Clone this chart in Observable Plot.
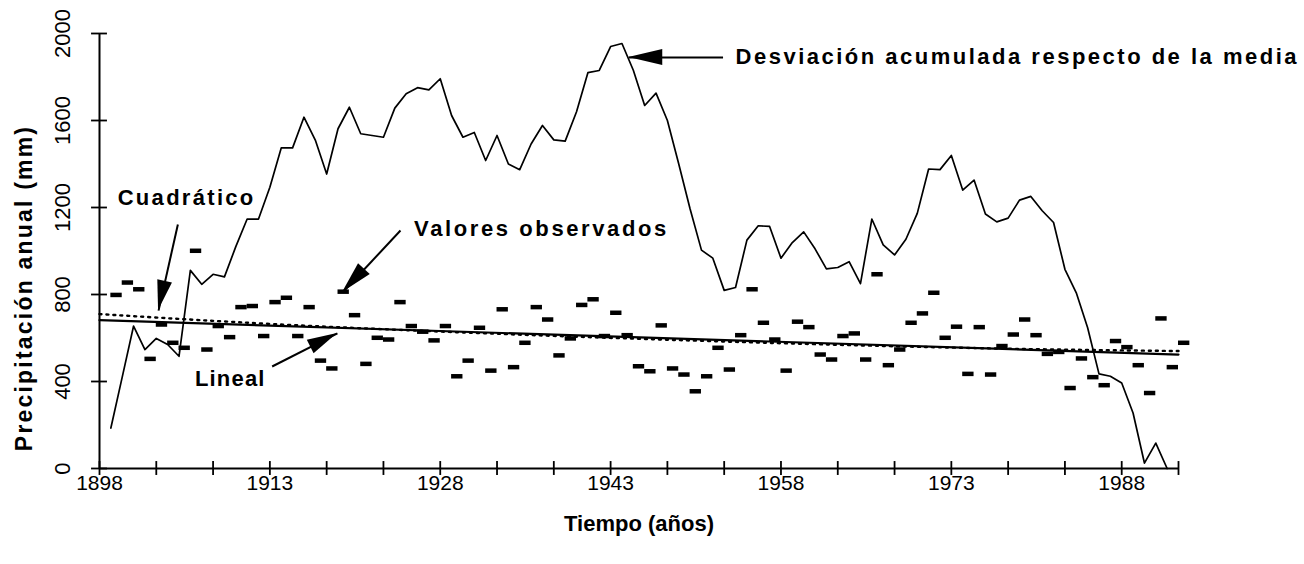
<!DOCTYPE html>
<html><head><meta charset="utf-8">
<script src="https://cdn.jsdelivr.net/npm/d3@7"></script>
<script src="https://cdn.jsdelivr.net/npm/@observablehq/plot@0.6"></script>
<style>
html,body{margin:0;padding:0;background:#fff;}
#chart svg{display:block;}
</style></head><body><div id="chart"></div>
<script>
// ---------- data ----------
const obsYears = d3.range(1899, 1994);           // years of observed dashes
const observed = [798,855,824,504,662,578,555,1001,547,655,604,742,747,609,765,785,609,742,496,460,
  813,705,481,601,593,765,655,629,589,655,424,496,647,450,732,466,578,742,685,520,
  598,752,778,609,716,613,470,447,658,460,432,355,424,555,455,613,824,670,593,450,
  675,650,524,501,609,621,501,893,475,547,670,713,808,601,652,435,650,432,563,616,
  685,613,527,536,370,506,420,383,586,558,475,347,690,466,578];
const cumYears = d3.range(1899, 1993);
const cumulative = [186,420,655,547,598,570,516,911,847,893,881,1020,1147,1147,1293,1474,1474,1615,1510,1354,
  1562,1661,1539,1531,1523,1657,1723,1751,1741,1792,1623,1523,1545,1416,1531,1400,1374,1492,1577,1511,
  1505,1640,1820,1830,1940,1954,1831,1669,1726,1600,1400,1193,1004,967,819,832,1050,1116,1113,967,
  1039,1088,1010,918,924,951,850,1147,1028,982,1054,1173,1377,1374,1439,1280,1326,1170,1134,1151,
  1234,1251,1185,1131,916,808,647,435,424,393,255,25,117,0];
const linearYears = [1898, 1993];
const linearValues = [682, 524];
const quadYears = [1898, 1910, 1925, 1945, 1965, 1980, 1993];
const quadValues = [710, 673, 636, 597, 566, 549, 540];
const yTickValues = [0, 400, 800, 1200, 1600, 2000];
const xTickValues = d3.range(1898, 1994, 5);
const xLabelValues = [1898, 1913, 1928, 1943, 1958, 1973, 1988];
const labelTexts = ["Desviación acumulada respecto de la media", "Cuadrático", "Valores observados", "Lineal"];
const labelYears = [1954.0, 1899.6, 1925.7, 1906.4];
const labelValues = [1890, 1246, 1103, 414];
const arrowFrom = [[1952.9, 1890], [1904.9, 1122], [1924.5, 1094], [1913.2, 469]];
const arrowTo   = [[1944.6, 1890], [1903.2, 726], [1919.4, 809], [1918.95, 621]];
const xTitle = "Tiempo (años)";
const yTitle = "Precipitación anual (mm)";

// ---------- tables ----------
const obsData = obsYears.map((year, i) => ({year, v: observed[i]}));
const cumData = cumYears.map((year, i) => ({year, v: cumulative[i]}));
const linData = linearYears.map((year, i) => ({year, v: linearValues[i]}));
const quadData = quadYears.map((year, i) => ({year, v: quadValues[i]}));
const labels = labelTexts.map((t, i) => ({t, x: labelYears[i], y: labelValues[i]}));
const arrows = arrowFrom.map((f, i) => ({x1: f[0], y1: f[1], x2: arrowTo[i][0], y2: arrowTo[i][1]}));

const sans = "'Liberation Sans', Arial, Helvetica, sans-serif";
const narrow = "'Liberation Sans Narrow', 'Arial Narrow', 'Liberation Sans', Arial, sans-serif";
const x0 = 1898, tickHalfX = 0.7, tickHalfY = 32;
const spacing = {"Desviación acumulada respecto de la media": 2.5, "Cuadrático": 2.3, "Valores observados": 2.6, "Lineal": 1.2, "Precipitación anual (mm)": 2.2};

const plot = Plot.plot({
  width: 1304, height: 564,
  marginLeft: 99, marginRight: 126, marginTop: 33, marginBottom: 96,
  x: {domain: [1898, 1993], axis: null},
  y: {domain: [0, 2000], axis: null},
  style: {fontFamily: sans, background: "white", color: "black", overflow: "visible"},
  marks: [
    Plot.ruleX(xTickValues, {x: d => d, y1: -tickHalfY, y2: tickHalfY, strokeWidth: 1.8}),
    Plot.ruleY(yTickValues, {y: d => d, x1: x0 - tickHalfX, x2: x0 + tickHalfX, strokeWidth: 1.8}),
    Plot.ruleY([0], {strokeWidth: 2.2}),
    Plot.ruleX([x0], {strokeWidth: 2}),
    Plot.text(xLabelValues, {x: d => d, text: d => String(d), frameAnchor: "bottom", dy: 21, fontSize: 21, fontFamily: sans}),
    Plot.text(yTickValues, {y: d => d, text: d => String(d), frameAnchor: "left", textAnchor: "middle", dx: -37, rotate: -90, fontSize: 22, fontFamily: narrow}),
    Plot.text([xTitle], {text: d => d, frameAnchor: "bottom", dy: 62, fontSize: 22, fontWeight: "bold", fontFamily: narrow}),
    Plot.text([yTitle], {text: d => d, frameAnchor: "left", textAnchor: "middle", dx: -75, dy: 37, rotate: -90, fontSize: 23, fontWeight: "bold", fontFamily: sans}),
    Plot.line(quadData, {x: "year", y: "v", curve: "natural", stroke: "black", strokeWidth: 2.4, strokeDasharray: "2,5"}),
    Plot.line(linData, {x: "year", y: "v", stroke: "black", strokeWidth: 2.2}),
    Plot.line(cumData, {x: "year", y: "v", stroke: "black", strokeWidth: 1.7}),
    Plot.ruleY(obsData, {y: "v", x1: "year", x2: d => d.year + 1, stroke: "black", strokeWidth: 4.5}),
    Plot.link(arrows, {x1: "x1", y1: "y1", x2: "x2", y2: "y2", stroke: "black", strokeWidth: 2}),
    Plot.text(labels, {x: "x", y: "y", text: "t", textAnchor: "start", fontSize: 22, fontWeight: "bold", fontFamily: sans})
  ]
});

// filled arrowheads, positioned through Plot's scales
const sx = plot.scale("x"), sy = plot.scale("y");
const svg = d3.select(plot);
const headLen = [34, 30, 32, 30], headHalf = [8, 7.5, 8, 7.5];
arrows.forEach((a, i) => {
  const x1 = sx.apply(a.x1), y1 = sy.apply(a.y1), x2 = sx.apply(a.x2), y2 = sy.apply(a.y2);
  const ang = Math.atan2(y2 - y1, x2 - x1);
  const bx = x2 - headLen[i] * Math.cos(ang), by = y2 - headLen[i] * Math.sin(ang);
  const px = -Math.sin(ang) * headHalf[i], py = Math.cos(ang) * headHalf[i];
  svg.append("polygon")
    .attr("points", `${x2},${y2} ${bx + px},${by + py} ${bx - px},${by - py}`)
    .attr("fill", "black");
});
svg.selectAll("text").each(function() {
  const s = spacing[this.textContent.trim()];
  if (s != null) this.setAttribute("letter-spacing", s + "px");
});
document.getElementById("chart").appendChild(plot);
</script></body></html>
